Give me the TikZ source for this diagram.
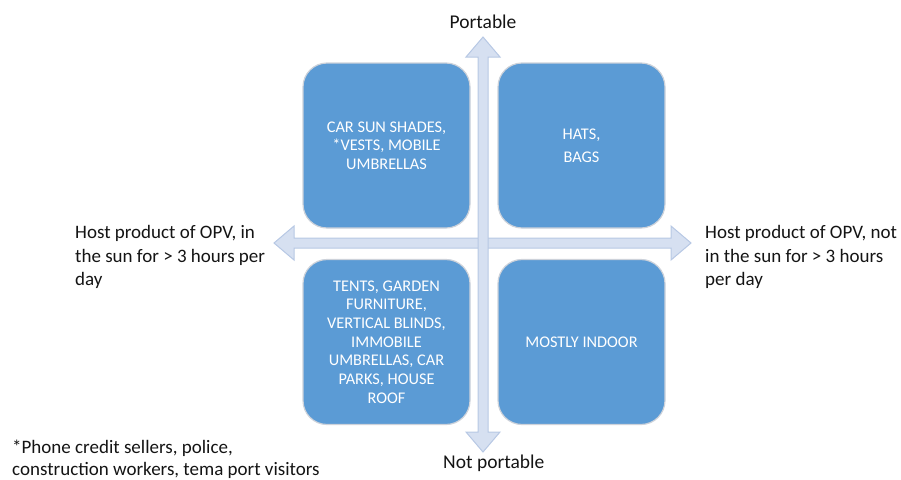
\documentclass[tikz,border=0pt]{standalone}
\usepackage{fontspec}
\setmainfont{Carlito}
\definecolor{boxfill}{RGB}{91,155,213}
\definecolor{boxline}{RGB}{205,210,218}
\definecolor{arrfill}{RGB}{214,224,241}
\definecolor{arrline}{RGB}{183,200,228}
\definecolor{txt}{RGB}{20,20,20}
\tikzset{
  quad/.style={draw=boxline, line width=1.2pt, fill=boxfill, rounded corners=24pt,
    minimum width=167pt, minimum height=165pt, inner sep=4pt, align=center,
    text=white, font=\fontsize{16.3}{18.7}\selectfont},
  sidelabel/.style={inner sep=0pt, align=left, text=txt, font=\fontsize{19}{23.5}\selectfont},
  axislabel/.style={inner sep=0pt, text=txt, font=\fontsize{19.5}{23}\selectfont},
  axisarrow/.style={fill=arrfill, draw=arrline, line width=1pt, line join=miter}
}
\begin{document}
\begin{tikzpicture}[x=1pt,y=-1pt]
\useasboundingbox (0,0) rectangle (901,479);
% axis end points
\coordinate (L) at (274,243);
\coordinate (R) at (691,243);
\coordinate (T) at (483,37);
\coordinate (B) at (483,452);
% horizontal double arrow
\draw[axisarrow] (L) -- ([shift={(20,-17)}]L) -- ([shift={(20,-5)}]L)
  -- ([shift={(-20,-5)}]R) -- ([shift={(-20,-17)}]R) -- (R)
  -- ([shift={(-20,17)}]R) -- ([shift={(-20,5)}]R)
  -- ([shift={(20,5)}]L) -- ([shift={(20,17)}]L) -- cycle;
% vertical double arrow
\draw[axisarrow] (T) -- ([shift={(17,20)}]T) -- ([shift={(5,20)}]T)
  -- ([shift={(5,-20)}]B) -- ([shift={(17,-20)}]B) -- (B)
  -- ([shift={(-17,-20)}]B) -- ([shift={(-5,-20)}]B)
  -- ([shift={(-5,20)}]T) -- ([shift={(-17,20)}]T) -- cycle;
% quadrant boxes
\node[quad] (tl) at (386.5,145.5) {CAR SUN SHADES,\\*VESTS, MOBILE\\UMBRELLAS};
\node[quad, font=\fontsize{16.3}{23}\selectfont] (tr) at (581.5,145.5) {HATS,\\BAGS};
\node[quad] (bl) at (386.5,342) {TENTS, GARDEN\\FURNITURE,\\VERTICAL BLINDS,\\IMMOBILE\\UMBRELLAS, CAR\\PARKS, HOUSE\\ROOF};
\node[quad] (br) at (581.5,342) {MOSTLY INDOOR};
% labels
\node[axislabel, anchor=base] (port) at (483,28) {Portable};
\node[axislabel, anchor=base west] (notport) at (443,468) {Not portable};
\node[sidelabel, anchor=north west] (left) at (75,225.5) {Host product of OPV, in\\the sun for > 3 hours per\\day};
\node[sidelabel, anchor=north west] (right) at (705,225.5) {Host product of OPV, not\\in the sun for > 3 hours\\per day};
\node[sidelabel, anchor=north west, font=\fontsize{19}{22}\selectfont] (foot) at (12,440) {*Phone credit sellers, police,\\construction workers, tema port visitors};
\end{tikzpicture}
\end{document}
